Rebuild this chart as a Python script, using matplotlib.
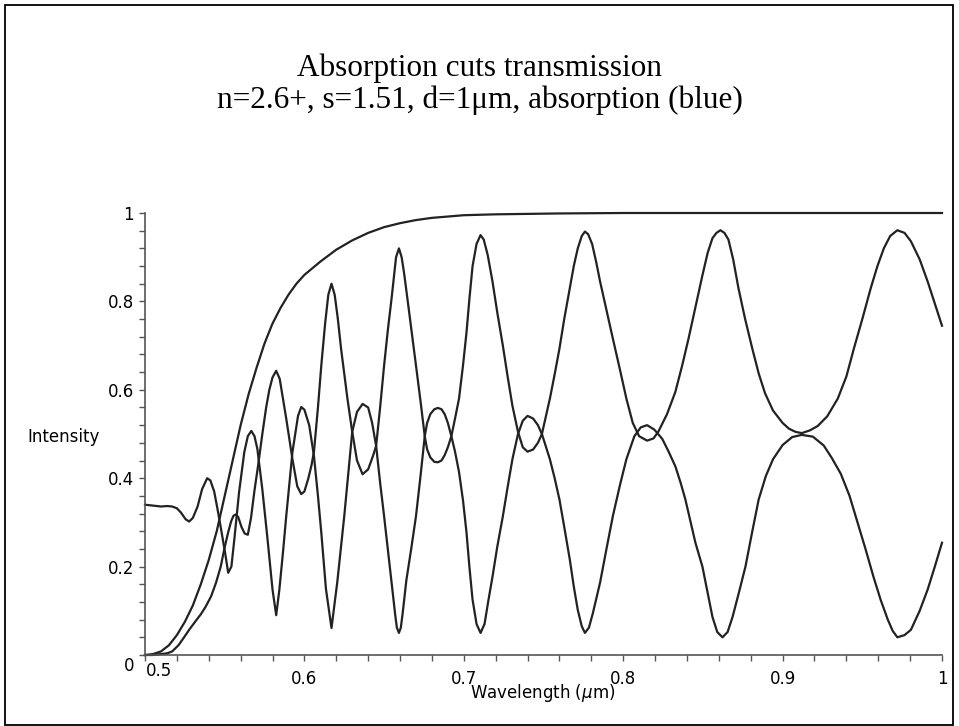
import numpy as np
import matplotlib
matplotlib.use("Agg")
import matplotlib.pyplot as plt
from matplotlib.patches import Rectangle
from matplotlib.transforms import ScaledTranslation

# smooth absorption curve
abs_x = [0.500, 0.505, 0.510, 0.515, 0.520, 0.525, 0.530, 0.535, 0.540, 0.545,
         0.550, 0.555, 0.560, 0.565, 0.570, 0.575, 0.580, 0.585, 0.590, 0.595,
         0.600, 0.610, 0.620, 0.630, 0.640, 0.650, 0.660, 0.670, 0.680, 0.690,
         0.700, 0.720, 0.740, 0.760, 0.800, 0.850, 0.900, 0.950, 1.000]
abs_y = [0.000, 0.002, 0.008, 0.022, 0.045, 0.075, 0.112, 0.160, 0.215, 0.280,
         0.360, 0.440, 0.520, 0.590, 0.650, 0.705, 0.750, 0.785, 0.815, 0.840,
         0.860, 0.890, 0.917, 0.938, 0.955, 0.968, 0.977, 0.984, 0.989, 0.992,
         0.995, 0.997, 0.998, 0.999, 1.000, 1.000, 1.000, 1.000, 1.000]

# curve with the high peaks (starts at 0)
up_x = [0.500, 0.505, 0.510, 0.514, 0.517, 0.521, 0.5245, 0.5277, 0.532, 0.535,
        0.538, 0.5415, 0.5446, 0.5475, 0.5497, 0.552, 0.554, 0.5555, 0.557, 0.5585,
        0.5605, 0.5625, 0.5645, 0.5665, 0.5686, 0.571, 0.5736, 0.576, 0.578, 0.580,
        0.5823, 0.5845, 0.5868, 0.5886, 0.5905, 0.5925, 0.5955, 0.598, 0.600, 0.6025,
        0.6045, 0.606, 0.6085, 0.6106, 0.613, 0.615, 0.617, 0.619, 0.621, 0.623,
        0.627, 0.630, 0.633, 0.6365, 0.640, 0.643, 0.645, 0.6475, 0.650, 0.6525,
        0.6547, 0.6575, 0.6593, 0.661, 0.6625, 0.6646, 0.6673, 0.670, 0.673, 0.6755,
        0.677, 0.679, 0.6815, 0.6837, 0.686, 0.688, 0.690, 0.6922, 0.6945, 0.697,
        0.6995, 0.7017, 0.7035, 0.7055, 0.708, 0.7105, 0.7125, 0.715, 0.718, 0.721,
        0.7245, 0.7275, 0.7305, 0.734, 0.737, 0.740, 0.7435, 0.7465, 0.749, 0.7515,
        0.754, 0.757, 0.760, 0.763, 0.7665, 0.769, 0.7715, 0.774, 0.776, 0.778,
        0.7805, 0.783, 0.7855, 0.7895, 0.7935, 0.798, 0.802, 0.806, 0.810, 0.815,
        0.819, 0.822, 0.8275, 0.8327, 0.837, 0.841, 0.8455, 0.8497, 0.853, 0.856,
        0.8585, 0.861, 0.8635, 0.866, 0.869, 0.8723, 0.8765, 0.881, 0.885, 0.889,
        0.894, 0.900, 0.904, 0.908, 0.912, 0.917, 0.922, 0.928, 0.9346, 0.940,
        0.9447, 0.950, 0.9553, 0.9595, 0.9635, 0.9675, 0.972, 0.9765, 0.9805, 0.986,
        0.991, 0.9955, 1.000]
up_y = [0.000, 0.000, 0.002, 0.004, 0.008, 0.022, 0.040, 0.057, 0.078, 0.092,
        0.109, 0.133, 0.164, 0.200, 0.239, 0.275, 0.302, 0.315, 0.318, 0.312,
        0.290, 0.275, 0.272, 0.310, 0.370, 0.430, 0.500, 0.560, 0.600, 0.628,
        0.643, 0.625, 0.575, 0.535, 0.490, 0.443, 0.382, 0.364, 0.370, 0.400,
        0.430, 0.460, 0.560, 0.655, 0.750, 0.815, 0.840, 0.815, 0.760, 0.693,
        0.580, 0.505, 0.440, 0.409, 0.420, 0.450, 0.473, 0.560, 0.655, 0.740,
        0.807, 0.900, 0.920, 0.900, 0.865, 0.807, 0.730, 0.655, 0.570, 0.495,
        0.465, 0.447, 0.437, 0.436, 0.440, 0.452, 0.470, 0.495, 0.535, 0.580,
        0.655, 0.730, 0.805, 0.880, 0.930, 0.950, 0.940, 0.905, 0.845, 0.775,
        0.700, 0.630, 0.564, 0.505, 0.470, 0.460, 0.465, 0.480, 0.500, 0.540,
        0.580, 0.635, 0.693, 0.760, 0.830, 0.880, 0.920, 0.948, 0.958, 0.952,
        0.930, 0.890, 0.845, 0.780, 0.716, 0.645, 0.580, 0.525, 0.495, 0.485,
        0.490, 0.505, 0.545, 0.595, 0.655, 0.716, 0.790, 0.859, 0.910, 0.943,
        0.955, 0.961, 0.955, 0.940, 0.895, 0.830, 0.760, 0.693, 0.637, 0.592,
        0.553, 0.525, 0.512, 0.505, 0.502, 0.508, 0.518, 0.540, 0.580, 0.630,
        0.693, 0.760, 0.830, 0.880, 0.920, 0.948, 0.961, 0.955, 0.936, 0.895,
        0.845, 0.795, 0.745]

# curve with the deep troughs (starts at 0.34)
lo_x = [0.500, 0.505, 0.510, 0.514, 0.517, 0.520, 0.5226, 0.5255, 0.5277, 0.530,
        0.533, 0.5358, 0.539, 0.541, 0.5434, 0.5455, 0.5477, 0.5503, 0.5522, 0.5542,
        0.556, 0.559, 0.5623, 0.5645, 0.5667, 0.5687, 0.5705, 0.5736, 0.5767, 0.580,
        0.5823, 0.5843, 0.5865, 0.5886, 0.5925, 0.596, 0.598, 0.600, 0.603, 0.606,
        0.6085, 0.6106, 0.6135, 0.617, 0.6206, 0.625, 0.630, 0.633, 0.6365, 0.640,
        0.6425, 0.645, 0.6475, 0.650, 0.6547, 0.657, 0.658, 0.6593, 0.6605, 0.6615,
        0.664, 0.667, 0.670, 0.673, 0.6755, 0.677, 0.679, 0.6815, 0.6837, 0.686,
        0.688, 0.690, 0.6922, 0.6945, 0.697, 0.6995, 0.7017, 0.7035, 0.7055, 0.708,
        0.7105, 0.713, 0.7155, 0.718, 0.721, 0.7245, 0.7275, 0.7305, 0.734, 0.737,
        0.740, 0.7435, 0.7465, 0.749, 0.754, 0.757, 0.760, 0.763, 0.7665, 0.769,
        0.7715, 0.774, 0.776, 0.7785, 0.781, 0.7855, 0.7895, 0.7935, 0.798, 0.802,
        0.807, 0.811, 0.815, 0.8195, 0.8245, 0.8285, 0.8327, 0.836, 0.839, 0.842,
        0.8453, 0.8497, 0.853, 0.856, 0.859, 0.8623, 0.8655, 0.8686, 0.8725, 0.8767,
        0.881, 0.885, 0.8895, 0.894, 0.900, 0.906, 0.912, 0.919, 0.9258, 0.931,
        0.9365, 0.942, 0.947, 0.952, 0.957, 0.9615, 0.966, 0.969, 0.972, 0.9765,
        0.9805, 0.986, 0.991, 0.9955, 1.000]
lo_y = [0.340, 0.338, 0.336, 0.337, 0.336, 0.332, 0.322, 0.307, 0.302, 0.310,
        0.336, 0.375, 0.400, 0.395, 0.370, 0.330, 0.285, 0.230, 0.186, 0.200,
        0.260, 0.368, 0.459, 0.495, 0.507, 0.495, 0.466, 0.375, 0.268, 0.148,
        0.090, 0.148, 0.230, 0.314, 0.459, 0.541, 0.561, 0.555, 0.520, 0.450,
        0.360, 0.277, 0.150, 0.061, 0.164, 0.314, 0.505, 0.550, 0.568, 0.560,
        0.525, 0.473, 0.390, 0.314, 0.164, 0.090, 0.062, 0.050, 0.062, 0.090,
        0.170, 0.240, 0.314, 0.410, 0.495, 0.525, 0.545, 0.556, 0.559, 0.556,
        0.545, 0.525, 0.495, 0.460, 0.414, 0.350, 0.277, 0.200, 0.125, 0.070,
        0.050, 0.070, 0.125, 0.177, 0.245, 0.314, 0.380, 0.443, 0.500, 0.530,
        0.541, 0.535, 0.520, 0.500, 0.443, 0.400, 0.352, 0.290, 0.216, 0.155,
        0.102, 0.065, 0.050, 0.062, 0.095, 0.164, 0.240, 0.314, 0.385, 0.443,
        0.495, 0.515, 0.520, 0.510, 0.489, 0.460, 0.427, 0.390, 0.352, 0.305,
        0.254, 0.200, 0.140, 0.086, 0.052, 0.040, 0.052, 0.086, 0.140, 0.200,
        0.280, 0.352, 0.405, 0.443, 0.475, 0.493, 0.498, 0.494, 0.474, 0.445,
        0.410, 0.360, 0.300, 0.240, 0.177, 0.125, 0.080, 0.055, 0.040, 0.045,
        0.057, 0.100, 0.148, 0.200, 0.254]

xticks = [0.5, 0.6, 0.7, 0.8, 0.9, 1.0]
xticklabels = ["0.5", "0.6", "0.7", "0.8", "0.9", "1"]
yticks = [0, 0.2, 0.4, 0.6, 0.8, 1.0]
yticklabels = ["0", "0.2", "0.4", "0.6", "0.8", "1"]

fig = plt.figure(figsize=(9.59, 7.26), dpi=100)
ax = fig.add_axes([145/959, 1-655/726, (942-145)/959, (655-213)/726])

lc = "#222222"
ax.plot(abs_x, abs_y, color=lc, lw=1.6, clip_on=False)
ax.plot(up_x, up_y, color=lc, lw=1.6, clip_on=False)
ax.plot(lo_x, lo_y, color=lc, lw=1.6, clip_on=False)

ax.set_xlim(0.5, 1.0)
ax.set_ylim(0, 1)
for s in ["top", "right"]:
    ax.spines[s].set_visible(False)
for s in ["left", "bottom"]:
    ax.spines[s].set_color("#555555")
    ax.spines[s].set_linewidth(1.2)

ax.set_xticks(xticks)
ax.set_xticklabels(xticklabels)
ax.set_yticks(yticks)
ax.set_yticklabels(yticklabels)
ax.set_xticks(np.arange(0.52, 1.0, 0.02), minor=True)
ax.set_yticks(np.arange(0.04, 1.0, 0.04), minor=True)
ax.tick_params(which="both", direction="out", length=4, width=1, color="#555555")
ax.tick_params(axis="x", which="major", pad=7, labelsize=12)
ax.tick_params(axis="y", which="major", pad=4, labelsize=12)

# maple style shifts for the labels at the origin
xl = ax.get_xticklabels()[0]
xl.set_transform(xl.get_transform() + ScaledTranslation(0.14, 0.08, fig.dpi_scale_trans))
yl = ax.get_yticklabels()[0]
yl.set_transform(yl.get_transform() + ScaledTranslation(0, -0.09, fig.dpi_scale_trans))

fig.text(27/959, 1-437/726, "Intensity", ha="left", va="center", fontsize=12)
fig.text(543/959, 1-693/726, "Wavelength ($\\mu$m)", ha="center", va="center", fontsize=12)

fig.text(0.5, 1-76/726, "Absorption cuts transmission", ha="center", va="baseline",
         fontsize=22.5, family="Liberation Serif")
fig.text(0.5, 1-108/726, "n=2.6+, s=1.51, d=1\u03bcm, absorption (blue)", ha="center",
         va="baseline", fontsize=22.5, family="Liberation Serif")

fig.patches.append(Rectangle((5/959, 1/726), 948/959, 720/726, transform=fig.transFigure,
                             fill=False, edgecolor="black", lw=1.3))

fig.savefig("out.png", dpi=100)
